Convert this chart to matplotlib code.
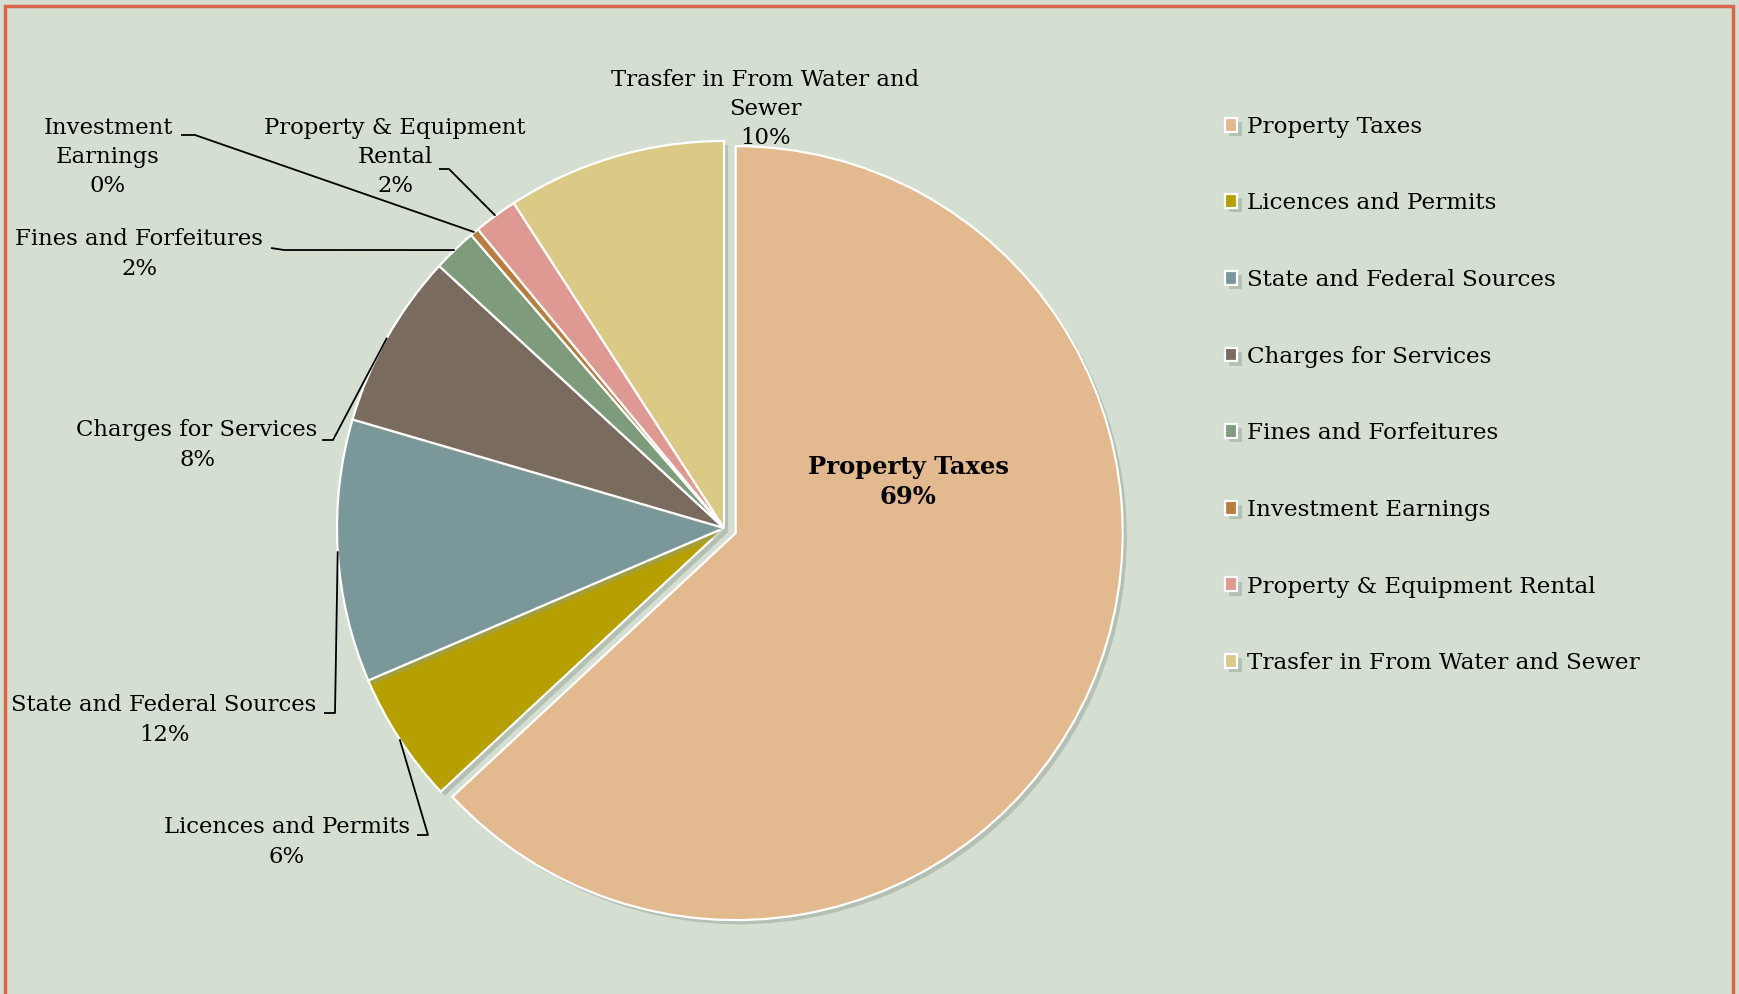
import numpy as np
import matplotlib.pyplot as plt
from matplotlib.patches import Rectangle
import matplotlib.patheffects as pe

# Revenue shares (percent)
categories = ["Property Taxes", "Licences and Permits", "State and Federal Sources",
              "Charges for Services", "Fines and Forfeitures", "Investment Earnings",
              "Property & Equipment Rental", "Trasfer in From Water and Sewer"]
shares = [69, 6, 12, 8, 2, 0.4, 2, 10]
colors = ["#E3B98F", "#B5A000", "#7A9799", "#7A6B5F",
          "#7E9B7B", "#B87D40", "#DE9A92", "#DBC986"]

BG = "#D4DFD2"
W, H = 1739, 994
CX, CY, R = 724, 528, 387   # pie centre / radius in pixels


def px(x, y):
    # pixel position -> data units (pie radius = 1)
    return (x - CX) / R, (CY - y) / R


plt.rcParams["font.family"] = ["DejaVu Serif"]

fig = plt.figure(figsize=(W / 100, H / 100), dpi=100, facecolor=BG)
ax = fig.add_axes([0, 0, 1, 1])
ax.set_facecolor(BG)

explode = [0.033] + [0] * (len(shares) - 1)
wedges, _ = ax.pie(shares, colors=colors, startangle=90, counterclock=False,
                   explode=explode, radius=1.0,
                   wedgeprops=dict(edgecolor="white", linewidth=1.6))
for w in wedges:
    w.set_path_effects([pe.SimplePatchShadow(offset=(3, -3), shadow_rgbFace="#8e9c8e",
                                             alpha=0.45), pe.Normal()])

ax.set_xlim(-CX / R, (W - CX) / R)
ax.set_ylim(-(H - CY) / R, CY / R)
ax.set_aspect("equal", adjustable="datalim")
ax.axis("off")

labels = [f"{c}\n{v:.0f}%" for c, v in zip(categories, shares)]
labels[6] = f"Property & Equipment\nRental\n{shares[6]:.0f}%"
labels[7] = f"Trasfer in From Water and\nSewer\n{shares[7]:.0f}%"
labels[5] = f"Investment\nEarnings\n{shares[5]:.0f}%"

# label block centres, leader tail start and elbow (pixels)
label_pos = {
    1: ((287, 842), (417, 835), (428, 835)),
    2: ((164, 720), (324, 713), (335, 713)),
    3: ((197, 445), (322, 440), (333, 440)),
    4: ((139, 254), (271, 248), (284, 250)),
    5: ((108, 157), (181, 135), (195, 135)),
    6: ((395, 157), (439, 169), (449, 169)),
    7: ((765, 109), None, None),
}

fs = 16.4
for i, (center, tail, elbow) in label_pos.items():
    x, y = px(*center)
    ax.text(x, y, labels[i], ha="center", va="center", fontsize=fs,
            linespacing=1.42, color="black")
    if tail is not None:
        w = wedges[i]
        ang = np.deg2rad((w.theta1 + w.theta2) / 2)
        ex, ey = np.cos(ang), np.sin(ang)
        tx, ty = px(*tail)
        bx, by = px(*elbow)
        ax.plot([tx, bx, ex], [ty, by, ey], color="black", lw=1.3,
                solid_capstyle="butt", zorder=5)

x, y = px(908, 482)
ax.text(x, y, f"{categories[0]}\n{shares[0]:.0f}%", ha="center", va="center",
        fontsize=17.5, fontweight="bold", linespacing=1.3)

leg = fig.legend(wedges, categories, loc="upper left",
                 bbox_to_anchor=(1204 / W, 1 - 95 / H), frameon=False,
                 fontsize=16.6, handlelength=0.55, handleheight=0.55,
                 handletextpad=0.4, labelspacing=2.37)

fig.patches.append(Rectangle((5 / W, -0.02), (1733 - 5) / W, 1 - 6 / H + 0.02,
                             transform=fig.transFigure, fill=False,
                             edgecolor="#D9654A", linewidth=2.5))

fig.savefig("out.png", dpi=100, facecolor=BG)
